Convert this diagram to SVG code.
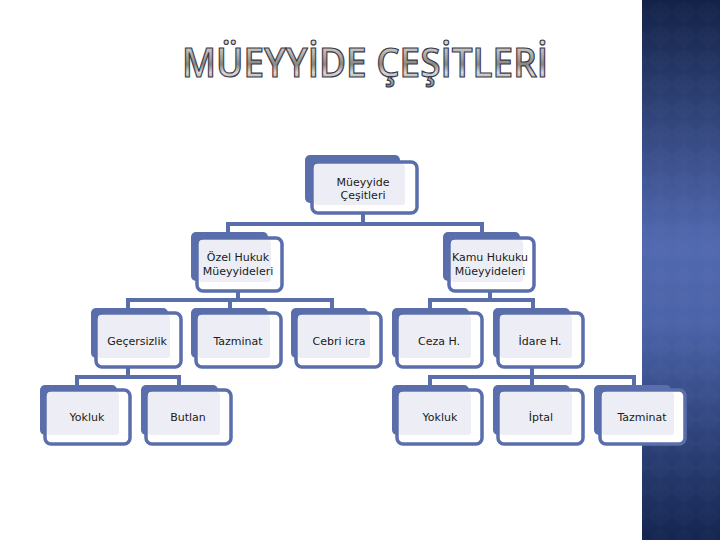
<svg xmlns="http://www.w3.org/2000/svg" width="720" height="540" viewBox="0 0 720 540">
<defs>
<linearGradient id="strip" x1="0" y1="0" x2="0" y2="1">
<stop offset="0" stop-color="#132248"/>
<stop offset="0.45" stop-color="#5169b0"/>
<stop offset="0.6" stop-color="#4b63a8"/>
<stop offset="1" stop-color="#142550"/>
</linearGradient>
<linearGradient id="metal" x1="0" y1="0" x2="0" y2="1">
<stop offset="0" stop-color="#f4f4f4"/>
<stop offset="0.35" stop-color="#b8b4b0"/>
<stop offset="0.55" stop-color="#8a8680"/>
<stop offset="0.7" stop-color="#d8d8d8"/>
<stop offset="1" stop-color="#7a7a7a"/>
</linearGradient>
<pattern id="diam" width="24" height="24" patternUnits="userSpaceOnUse">
<path d="M12 0 L24 12 L12 24 L0 12 Z" fill="#ffffff" opacity="0.015"/>
</pattern>
<style>
.back{fill:#5b6eac}
.front{fill:#ffffff;stroke:#5b6eac;stroke-width:3.5}
.inner{fill:#edeef5}
.lbl{font-family:"DejaVu Sans","Liberation Sans",sans-serif;font-size:11px;fill:#1a1a1a;text-anchor:middle}
.conn{stroke:#5b6eac;stroke-width:4;fill:none}
</style>
</defs>
<rect width="720" height="540" fill="#ffffff"/>
<rect x="642" y="0" width="78" height="540" fill="url(#strip)"/>
<rect x="642" y="0" width="78" height="540" fill="url(#diam)"/>
<text x="182" y="77" textLength="366" lengthAdjust="spacingAndGlyphs" font-family="'Open Sans','DejaVu Sans',sans-serif" font-weight="600" font-size="40" fill="url(#metal)" stroke="#3a3a48" stroke-width="1.2">MÜEYYİDE ÇEŞİTLERİ</text>
<g id="connectors">
<path class="conn" d="M363 213 V224 M228 224 H482 M228 222 V234 M482 222 V234"/>
<path class="conn" d="M238 291 V300 M128 300 H332 M128 298 V310 M230 298 V310 M332 298 V310"/>
<path class="conn" d="M490 291 V300 M430 300 H533 M430 298 V310 M533 298 V310"/>
<path class="conn" d="M128 368 V377 M77 377 H179 M77 375 V387 M179 375 V387"/>
<path class="conn" d="M532 368 V377 M430 377 H634 M430 375 V387 M532 375 V387 M634 375 V387"/>
</g>
<g id="n-root"><rect class="back" x="305" y="155" width="95" height="48" rx="5"/><rect class="front" x="312" y="162" width="105" height="51" rx="6"/><rect class="inner" x="314" y="164" width="91" height="41" rx="3"/><text class="lbl" x="363" y="186">Müeyyide</text><text class="lbl" x="363" y="199">Çeşitleri</text></g>
<g id="n-ozel"><rect class="back" x="191" y="232" width="77" height="49" rx="5"/><rect class="front" x="197" y="238" width="85" height="53" rx="6"/><rect class="inner" x="199" y="240" width="72" height="42" rx="3"/><text class="lbl" x="238" y="261">Özel Hukuk</text><text class="lbl" x="238" y="275">Müeyyideleri</text></g>
<g id="n-kamu"><rect class="back" x="443" y="232" width="77" height="49" rx="5"/><rect class="front" x="449" y="238" width="85" height="53" rx="6"/><rect class="inner" x="451" y="240" width="72" height="42" rx="3"/><text class="lbl" x="490" y="261">Kamu Hukuku</text><text class="lbl" x="490" y="275">Müeyyideleri</text></g>
<g id="n-gecersizlik"><rect class="back" x="91" y="308" width="77" height="50" rx="5"/><rect class="front" x="96" y="313" width="85" height="54" rx="6"/><rect class="inner" x="98" y="315" width="72" height="43" rx="3"/><text class="lbl" x="137" y="345">Geçersizlik</text></g>
<g id="n-tazminat1"><rect class="back" x="191" y="308" width="77" height="50" rx="5"/><rect class="front" x="196" y="313" width="85" height="54" rx="6"/><rect class="inner" x="198" y="315" width="72" height="43" rx="3"/><text class="lbl" x="238" y="345">Tazminat</text></g>
<g id="n-cebri"><rect class="back" x="291" y="308" width="77" height="50" rx="5"/><rect class="front" x="296" y="313" width="85" height="54" rx="6"/><rect class="inner" x="298" y="315" width="72" height="43" rx="3"/><text class="lbl" x="339" y="345">Cebri icra</text></g>
<g id="n-ceza"><rect class="back" x="392" y="308" width="77" height="50" rx="5"/><rect class="front" x="397" y="313" width="85" height="54" rx="6"/><rect class="inner" x="399" y="315" width="72" height="43" rx="3"/><text class="lbl" x="439" y="345">Ceza H.</text></g>
<g id="n-idare"><rect class="back" x="493" y="308" width="77" height="50" rx="5"/><rect class="front" x="498" y="313" width="85" height="54" rx="6"/><rect class="inner" x="500" y="315" width="72" height="43" rx="3"/><text class="lbl" x="540" y="345">İdare H.</text></g>
<g id="n-yokluk1"><rect class="back" x="40" y="385" width="77" height="50" rx="5"/><rect class="front" x="45" y="390" width="85" height="54" rx="6"/><rect class="inner" x="47" y="392" width="72" height="43" rx="3"/><text class="lbl" x="87" y="421">Yokluk</text></g>
<g id="n-butlan"><rect class="back" x="141" y="385" width="77" height="50" rx="5"/><rect class="front" x="146" y="390" width="85" height="54" rx="6"/><rect class="inner" x="148" y="392" width="72" height="43" rx="3"/><text class="lbl" x="188" y="421">Butlan</text></g>
<g id="n-yokluk2"><rect class="back" x="392" y="385" width="77" height="50" rx="5"/><rect class="front" x="397" y="390" width="85" height="54" rx="6"/><rect class="inner" x="399" y="392" width="72" height="43" rx="3"/><text class="lbl" x="440" y="421">Yokluk</text></g>
<g id="n-iptal"><rect class="back" x="493" y="385" width="77" height="50" rx="5"/><rect class="front" x="498" y="390" width="85" height="54" rx="6"/><rect class="inner" x="500" y="392" width="72" height="43" rx="3"/><text class="lbl" x="541" y="421">İptal</text></g>
<g id="n-tazminat2"><rect class="back" x="594" y="385" width="77" height="50" rx="5"/><rect class="front" x="600" y="390" width="85" height="54" rx="6"/><rect class="inner" x="602" y="392" width="72" height="43" rx="3"/><text class="lbl" x="642" y="421">Tazminat</text></g>
</svg>
